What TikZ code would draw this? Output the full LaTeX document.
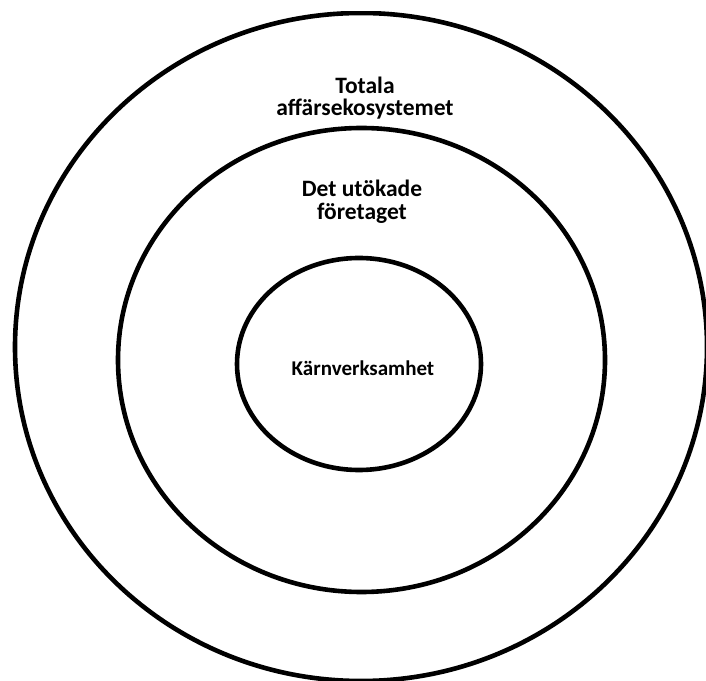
\documentclass[tikz,border=0pt]{standalone}
\usepackage{fontspec}
\setmainfont{Carlito}
\usetikzlibrary{shapes.geometric}
\begin{document}
\begin{tikzpicture}[x=1pt,y=1pt,
  ring/.style={draw=black, line width=4.6pt, ellipse, inner sep=0pt, outer sep=0pt},
  lbl/.style={font=\bfseries\fontsize{23.5}{22.5}\selectfont, align=center, inner sep=0pt},
  lblsmall/.style={font=\bfseries\fontsize{21}{24}\selectfont, align=center, inner sep=0pt}]
\useasboundingbox (0,0) rectangle (706,680);
\begin{scope}
\clip (0,0) rectangle (706,668);
\node[ring, minimum width=692pt, minimum height=668pt] (outer) at (361,333) {};
\end{scope}
\node[ring, minimum width=487pt, minimum height=464pt] (middle) at (361.5,320) {};
\node[ring, minimum width=244pt, minimum height=212pt] (inner) at (359,316) {};
\node[lbl] (t1) at (365,582) {Totala\\affärsekosystemet};
\node[lbl] (t2) at (362,478) {Det utökade\\företaget};
\node[lblsmall] (t3) at (363,312) {Kärnverksamhet};
\end{tikzpicture}
\end{document}
